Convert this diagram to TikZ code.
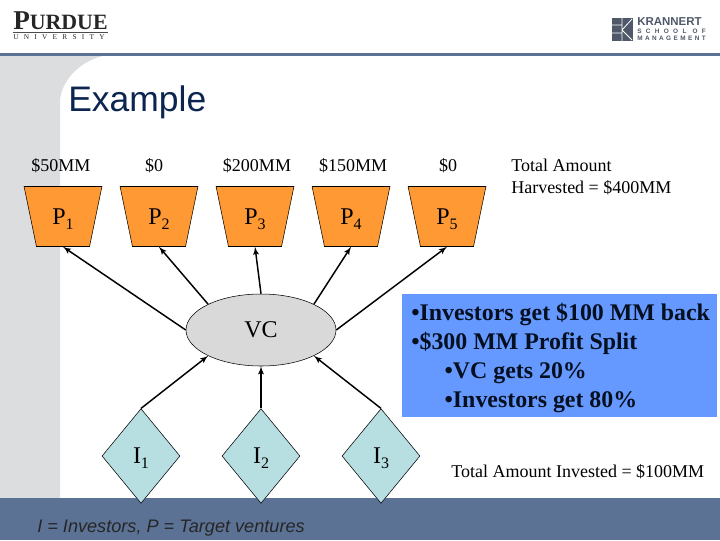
\documentclass[tikz,border=0pt]{standalone}
\usepackage{fontspec}
\setmainfont{Liberation Serif}
\newfontfamily\arialfont{Liberation Sans}
\newfontfamily\spacedfont[LetterSpace=38]{Liberation Sans}
\newfontfamily\widefont[LetterSpace=68]{Liberation Sans}
\newfontfamily\spacedserif[LetterSpace=72]{Liberation Serif}
\usetikzlibrary{shapes,shapes.geometric,arrows,positioning,calc}
\definecolor{bandblue}{HTML}{5C7295}
\definecolor{stripegray}{HTML}{DCDDDF}
\definecolor{titlenavy}{HTML}{0B2550}
\definecolor{boxblue}{HTML}{6699FF}
\definecolor{logogray}{HTML}{4E5868}
\newcommand{\sublabel}[2]{#1\raisebox{-0.45ex}[0pt][0pt]{\fontsize{12}{12}\selectfont #2}}
\tikzstyle{target} = [draw, fill={rgb,255:red,255;green,153;blue,51}, trapezium, shape border rotate=180, trapezium angle=72.4, trapezium stretches=true, minimum height=45pt, minimum width=58.5pt, inner sep=0pt, font=\fontsize{18}{18}\selectfont]
\tikzstyle{investor} = [draw, fill={rgb,255:red,183;green,222;blue,225}, diamond, aspect=0.82, minimum width=58.5pt, minimum height=71pt, inner sep=0pt, font=\fontsize{18}{18}\selectfont]
\tikzstyle{fund} = [draw, fill={rgb,255:red,217;green,217;blue,217}, ellipse, minimum width=112.5pt, minimum height=54pt, inner sep=0pt, font=\fontsize{18}{18}\selectfont]
\tikzstyle{amount} = [font=\fontsize{13.5}{16.5}\selectfont, inner sep=0pt]
\tikzstyle{link} = [->, line width=1.1pt]
\begin{document}
\begin{tikzpicture}[x=0.75pt, y=-0.75pt, node distance=72pt, >=latex']
    \useasboundingbox (0,0) rectangle (720,540);
    % Slide
    \fill [stripegray] (0,55) -- (107,55) .. controls (80,60) and (62,80) .. (60,100) -- (60,498) -- (0,498) -- cycle;
    \fill [bandblue] (0,53) rectangle (720,55.5);
    \fill [bandblue] (0,498) rectangle (720,540);
    \node [anchor=west, inner sep=0pt, font=\arialfont\fontsize{26.6}{26.6}\selectfont, text=titlenavy] (title) at (68,102) {Example};
    \node [anchor=west, inner sep=0pt, font=\arialfont\itshape\fontsize{13.6}{13.6}\selectfont, text=black!85] (legend) at (37,528) {I = Investors, P = Target ventures};
    % Logos
    \node [anchor=west, inner sep=0pt, font=\bfseries\fontsize{20.4}{20.4}\selectfont, text=black!85] (purdue) at (13,21) {P\fontsize{16.4}{16.4}\selectfont URDUE};
    \fill [black!70] (13,32) rectangle (108,33);
    \node [anchor=west, inner sep=0pt, font=\spacedserif\fontsize{5.5}{5.5}\selectfont, text=black!85] (university) at (13,37.5) {UNIVERSITY};
    \fill [logogray] (612,18) rectangle (633,41);
    \draw [white, line width=0.6pt] (612,25) -- (622,25) (612,33) -- (622,33) (622,18) -- (622,41) (622,30) -- (632,19) (622,30) -- (632,40);
    \node [anchor=west, inner sep=0pt, font=\arialfont\bfseries\fontsize{8.6}{8.6}\selectfont, text=logogray] (krannert) at (637,22) {KRANNERT};
    \node [anchor=west, inner sep=0pt, font=\widefont\bfseries\fontsize{4.8}{4.8}\selectfont, text=logogray] (school) at (637,31) {SCHOOL OF};
    \node [anchor=west, inner sep=0pt, font=\spacedfont\bfseries\fontsize{4.8}{4.8}\selectfont, text=logogray] (management) at (637,38) {MANAGEMENT};
    % Targets
    \node [target] (p1) at (63,216.5) {\sublabel{P}{1}};
    \node [target, right of=p1] (p2) {\sublabel{P}{2}};
    \node [target, right of=p2] (p3) {\sublabel{P}{3}};
    \node [target, right of=p3] (p4) {\sublabel{P}{4}};
    \node [target, right of=p4] (p5) {\sublabel{P}{5}};
    % Amounts
    \node [amount] (a1) at (61,166) {\$50MM};
    \node [amount] (a2) at (154,166) {\$0};
    \node [amount] (a3) at (257,166) {\$200MM};
    \node [amount] (a4) at (353,166) {\$150MM};
    \node [amount] (a5) at (448,166) {\$0};
    \node [amount, anchor=north west, align=left] (harvest) at (511,159) {Total Amount\\Harvested = \$400MM};
    % Fund and investors
    \node [fund] (vc) at (261,330) {VC};
    \node [investor] (i1) at (141,456) {\sublabel{I}{1}};
    \node [investor, right of=i1, node distance=90pt] (i2) {\sublabel{I}{2}};
    \node [investor, right of=i2, node distance=90pt] (i3) {\sublabel{I}{3}};
    \node [amount, anchor=west] (invested) at (451,472) {Total Amount Invested = \$100MM};
    % Split
    \node [fill=boxblue, anchor=north west, minimum width=236pt, minimum height=92.25pt, inner sep=0pt] (split) at (402,294) {};
    \node [anchor=west, inner sep=0pt, align=left, font=\bfseries\fontsize{17.9}{21.75}\selectfont, text=titlenavy!40!black] (splittext) at (411,358) {\textbullet Investors get \$100 MM back\\\textbullet\$300 MM Profit Split\\\hspace*{25pt}\textbullet VC gets 20\%\\\hspace*{25pt}\textbullet Investors get 80\%};
    % Connections
    \draw [link] (vc.west) -- (p1.south);
    \draw [link] (vc.154) -- (p2.south);
    \draw [link] (vc.north) -- (p3.south);
    \draw [link] (vc.26) -- (p4.south);
    \draw [link] (vc.east) -- (p5.south);
    \draw [link] (i1.north) -- (vc.206);
    \draw [link] (i2.north) -- (vc.south);
    \draw [link] (i3.north) -- (vc.334);
\end{tikzpicture}
\end{document}
